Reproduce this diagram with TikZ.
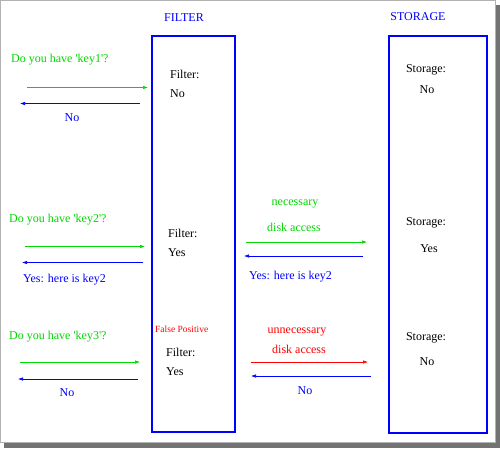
\documentclass[tikz,border=0pt]{standalone}
\usepackage{fontspec}
\setmainfont{Liberation Serif}
\usetikzlibrary{arrows.meta}

\definecolor{askgreen}{RGB}{0,215,0}
\definecolor{ansblue}{RGB}{0,0,255}
\definecolor{badred}{RGB}{255,0,0}

\begin{document}
\begin{tikzpicture}[
    x=1pt, y=-1pt,
    font=\fontsize{12}{14}\selectfont,
    box/.style={draw=ansblue, line width=1.6pt, minimum width=83pt, minimum height=396pt, inner sep=0pt},
    title/.style={text=ansblue, inner sep=0pt},
    lbl/.style={inner sep=0pt, anchor=west},
    clbl/.style={inner sep=0pt},
    ask/.style={-{Latex[length=5pt,width=3.5pt]}, line width=0.6pt, draw=askgreen},
    ans/.style={-{Latex[length=5pt,width=3.5pt]}, line width=0.6pt, draw=ansblue},
    bad/.style={-{Latex[length=5pt,width=3.5pt]}, line width=0.6pt, draw=badred},
  ]
  % frame with shadow
  \useasboundingbox (0,0) rectangle (500,448);
  \fill[black!55] (4,5) rectangle (500,448);
  \filldraw[fill=white, draw=black!30, line width=0.8pt] (0.4,0.4) rectangle (495,442);

  % Titles and boxes
  \node[title] (ftitle) at (184,18) {FILTER};
  \node[title] (stitle) at (418,17) {STORAGE};
  \node[box] (filter) at (193.5,234) {};
  \node[box, minimum width=98pt, minimum height=397pt] (storage) at (438,234.5) {};

  % key1
  \node[lbl, text=askgreen] (q1) at (11,60) {Do you have \textquotesingle key1\textquotesingle ?};
  \node[lbl] (f1) at (170,74) {Filter:};
  \node[lbl] (f1v) at (170,94) {No};
  \node[clbl] (s1) at (426,70) {Storage:};
  \node[clbl] (s1v) at (427,90) {No};
  \node[clbl, text=ansblue] (a1) at (72,118) {No};
  \coordinate (q1a) at (27,87.5);  \coordinate (q1b) at (148,87.5);
  \coordinate (a1a) at (140,103.5); \coordinate (a1b) at (20,103.5);
  \draw[ask] (q1a) -- (q1b);
  \draw[ans] (a1a) -- (a1b);

  % key2
  \node[lbl, text=askgreen] (q2) at (9,220) {Do you have \textquotesingle key2\textquotesingle ?};
  \node[lbl] (f2) at (168,233) {Filter:};
  \node[lbl] (f2v) at (168,253) {Yes};
  \node[lbl, text=ansblue] (a2) at (23,280) {Yes: here is key2};
  \node[clbl, text=askgreen] (d2) at (295,204) {necessary};
  \node[clbl, text=askgreen] (d2b) at (294,227) {disk access};
  \node[lbl, text=ansblue] (r2) at (249,277) {Yes: here is key2};
  \node[clbl] (s2) at (426,223) {Storage:};
  \node[clbl] (s2v) at (429,249) {Yes};
  \coordinate (q2a) at (25,246.5);  \coordinate (q2b) at (145,246.5);
  \coordinate (a2a) at (143,262.5); \coordinate (a2b) at (22,262.5);
  \coordinate (d2a) at (246,242);   \coordinate (d2c) at (367,242);
  \coordinate (r2a) at (363,256);   \coordinate (r2b) at (244,256);
  \draw[ask] (q2a) -- (q2b);
  \draw[ans] (a2a) -- (a2b);
  \draw[ask] (d2a) -- (d2c);
  \draw[ans] (r2a) -- (r2b);

  % key3
  \node[lbl, text=badred, font=\fontsize{9.5}{11}\selectfont] (fp) at (155,329) {False Positive};
  \node[lbl, text=askgreen] (q3) at (9,337) {Do you have \textquotesingle key3\textquotesingle ?};
  \node[lbl] (f3) at (166,352) {Filter:};
  \node[lbl] (f3v) at (166,372) {Yes};
  \node[clbl, text=ansblue] (a3) at (67,393) {No};
  \node[clbl, text=badred] (d3) at (297,332) {unnecessary};
  \node[clbl, text=badred] (d3b) at (299,349) {disk access};
  \node[clbl, text=ansblue] (r3) at (305,391) {No};
  \node[clbl] (s3) at (426,338) {Storage:};
  \node[clbl] (s3v) at (427,362) {No};
  \coordinate (q3a) at (20,362);   \coordinate (q3b) at (140,362);
  \coordinate (a3a) at (138,379);  \coordinate (a3b) at (18,379);
  \coordinate (d3a) at (251,362);  \coordinate (d3c) at (368,362);
  \coordinate (r3a) at (371,376);  \coordinate (r3b) at (251,376);
  \draw[ask] (q3a) -- (q3b);
  \draw[ans] (a3a) -- (a3b);
  \draw[bad] (d3a) -- (d3c);
  \draw[ans] (r3a) -- (r3b);
\end{tikzpicture}
\end{document}
